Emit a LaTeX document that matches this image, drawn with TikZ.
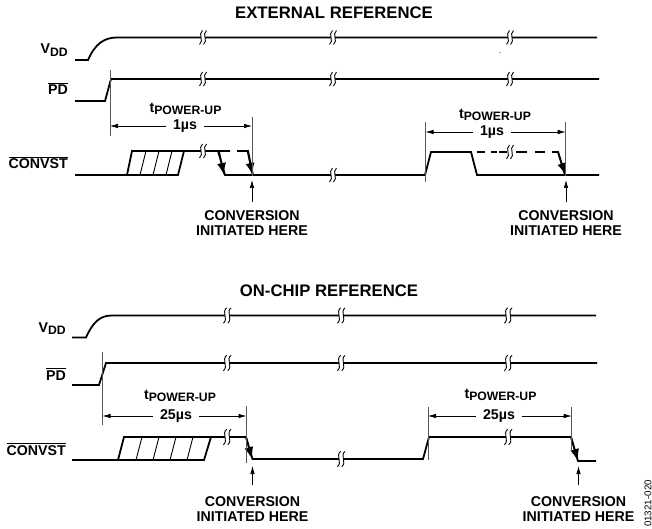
\documentclass[tikz,border=0pt]{standalone}
\usepackage{fontspec}
\setmainfont{Liberation Sans}
\usetikzlibrary{arrows.meta}

\newcommand{\lowtext}[1]{\raisebox{-0.28ex}{\fontsize{12.2}{13}\selectfont #1}}
\newcommand{\barred}[1]{\vbox{\hrule height 1.1pt \kern 1pt \hbox{#1}}}

\tikzset{
	signal/.style={line width=1.8pt},
	guide/.style={line width=0.7pt, black!65},
	hatch/.style={line width=0.9pt},
	edgearrow/.style={line width=1.5pt, -{Latex[length=12pt,width=9pt]}},
	dimarrow/.style={line width=0.7pt, -{Latex[length=8pt,width=4.5pt]}},
	lbl/.style={font=\bfseries\fontsize{14.2}{14.5}\selectfont, inner sep=0pt},
	heading/.style={font=\bfseries\fontsize{16.7}{17}\selectfont, inner sep=0pt},
	note/.style={lbl, align=center, anchor=north, inner ysep=8.5pt},
	span/.style={lbl, inner xsep=7pt, fill=white},
	gapmark/.pic={
		\fill[white] (1.5,-7) .. controls (-3.5,-3) and (3.5,3) .. (-1.5,7) -- (2.5,7) .. controls (7.5,3) and (0.5,-3) .. (5.5,-7) -- cycle;
		\draw[line width=0.9pt] (1.5,-7) .. controls (-3.5,-3) and (3.5,3) .. (-1.5,7);
		\draw[line width=0.9pt] (5.5,-7) .. controls (0.5,-3) and (7.5,3) .. (2.5,7);
	}
}

\begin{document}
\begin{tikzpicture}[x=1pt, y=-1pt]
	\useasboundingbox (0, 0) rectangle (652, 529);

	% external reference
	\node[heading] (titleext) at (334, 13) {EXTERNAL REFERENCE};
	\node[lbl, anchor=base east] (vddext) at (68, 54) {V\lowtext{DD}};
	\node[lbl, anchor=base east] (pdext) at (68, 95) {\barred{PD}};
	\node[lbl, anchor=base east] (convext) at (68, 169) {\barred{CONVST}};

	\draw[signal] (75, 60) -- (88, 60) .. controls (95, 44) and (104, 37.5) .. (117, 37.5) -- (597, 37.5);
	\draw[signal] (75, 101) -- (105, 101) -- (111, 79) -- (599, 79);
	\draw[signal] (75, 175) -- (178, 175) -- (184, 151) -- (218, 151) -- (225, 175) -- (425, 175) -- (431, 152) -- (471, 152) -- (477, 175) -- (599, 175);
	\draw[signal] (127, 175) -- (132, 151) -- (184, 151);
	\foreach \b/\t in {140/146, 153/159, 166/172}
		\draw[hatch] (\b, 175) -- (\t, 151);
	\draw[signal] (218, 151) -- (230, 151) (237, 151) -- (248, 151) -- (253, 175);
	\foreach \a/\c in {477/485, 491/497, 499/507, 516/527, 535/545}
		\draw[signal] (\a, 152) -- (\c, 152);
	\draw[signal] (552, 152) -- (558, 152) -- (565, 175);
	\draw[edgearrow] (219, 151) -- (224, 175);
	\draw[edgearrow] (247.5, 151) -- (252.5, 175);
	\draw[edgearrow] (558, 152) -- (565.5, 175);

	\foreach \x in {201, 331, 508} {
		\pic at (\x, 37.5) {gapmark};
		\pic at (\x, 79) {gapmark};
	}
	\foreach \x/\y in {201/151, 331/175, 508/152}
		\pic at (\x, \y) {gapmark};

	\coordinate (ta) at (110, 70);
	\coordinate (tb) at (110, 136);
	\coordinate (tc) at (252, 117);
	\coordinate (td) at (252, 176);
	\coordinate (te) at (425.5, 122);
	\coordinate (tf) at (425.5, 182);
	\coordinate (tg) at (565.7, 122);
	\coordinate (th) at (565.7, 176);
	\draw[guide] (ta) -- (tb);
	\draw[guide] (tc) -- (td);
	\draw[guide] (te) -- (tf);
	\draw[guide] (tg) -- (th);

	\node[lbl] (tpuext) at (185.5, 108.5) {t\lowtext{POWER-UP}};
	\node[span] (usext) at (185, 126) {1µs};
	\coordinate (ua) at (110, 126);
	\coordinate (ub) at (252, 126);
	\draw[dimarrow] (usext) -- (ua);
	\draw[dimarrow] (usext) -- (ub);
	\node[lbl] (tpuextb) at (495, 115) {t\lowtext{POWER-UP}};
	\node[span] (usextb) at (492, 132) {1µs};
	\coordinate (uc) at (425.5, 132);
	\coordinate (ud) at (565.7, 132);
	\draw[dimarrow] (usextb) -- (uc);
	\draw[dimarrow] (usextb) -- (ud);

	\node[note] (initext) at (252, 202) {CONVERSION\\INITIATED HERE};
	\node[note] (initextb) at (566, 202) {CONVERSION\\INITIATED HERE};
	\coordinate (va) at (252, 180);
	\coordinate (vb) at (566, 180);
	\draw[dimarrow] (initext) -- (va);
	\draw[dimarrow] (initextb) -- (vb);
	\fill[black!60] (500, 52.5) circle (0.6);

	% on-chip reference
	\node[heading] (titleint) at (329, 291) {ON-CHIP REFERENCE};
	\node[lbl, anchor=base east] (vddint) at (66, 332) {V\lowtext{DD}};
	\node[lbl, anchor=base east] (pdint) at (66, 380) {\barred{PD}};
	\node[lbl, anchor=base east] (convint) at (66, 455) {\barred{CONVST}};

	\draw[signal] (72, 337.5) -- (86, 337.5) .. controls (93, 322) and (100, 315.5) .. (112, 315.5) -- (596, 315.5);
	\draw[signal] (72, 385) -- (99, 385) -- (106, 363) -- (597, 363);
	\draw[signal] (72, 460) -- (204, 460) -- (211, 437) -- (246, 437) -- (252.5, 459) -- (423, 459) -- (429, 437) -- (571, 437) -- (578, 461) -- (596, 461);
	\draw[signal] (118, 460) -- (124, 437) -- (211, 437);
	\foreach \b/\t in {136/142, 153/159, 170/176, 187/193}
		\draw[hatch] (\b, 460) -- (\t, 437);
	\draw[edgearrow] (246, 437) -- (252, 459);
	\draw[edgearrow] (571, 437) -- (578, 461);

	\foreach \x in {225, 339, 506} {
		\pic[scale=1.1] at (\x, 315.5) {gapmark};
		\pic[scale=1.1] at (\x, 363) {gapmark};
	}
	\foreach \x/\y in {225/437, 339/459, 506/437}
		\pic[scale=1.1] at (\x, \y) {gapmark};

	\coordinate (tj) at (102.5, 352);
	\coordinate (tk) at (102.5, 425);
	\coordinate (tl) at (246.5, 406);
	\coordinate (tm) at (246.5, 463);
	\coordinate (tn) at (428, 407);
	\coordinate (tp) at (428, 460);
	\coordinate (tq) at (571.7, 407);
	\coordinate (tr) at (571.7, 452);
	\draw[guide] (tj) -- (tk);
	\draw[guide] (tl) -- (tm);
	\draw[guide] (tn) -- (tp);
	\draw[guide] (tq) -- (tr);

	\node[lbl] (tpuint) at (180, 396) {t\lowtext{POWER-UP}};
	\node[span] (usint) at (176, 416) {25µs};
	\coordinate (uf) at (102.5, 416);
	\coordinate (ug) at (246.5, 416);
	\draw[dimarrow] (usint) -- (uf);
	\draw[dimarrow] (usint) -- (ug);
	\node[lbl] (tpuintb) at (500.5, 395) {t\lowtext{POWER-UP}};
	\node[span] (usintb) at (499, 416) {25µs};
	\coordinate (uh) at (428, 416);
	\coordinate (uj) at (571.7, 416);
	\draw[dimarrow] (usintb) -- (uh);
	\draw[dimarrow] (usintb) -- (uj);

	\node[note, inner ysep=11.5pt] (initint) at (252.5, 485) {CONVERSION\\INITIATED HERE};
	\node[note, inner ysep=11.5pt] (initintb) at (578.5, 485) {CONVERSION\\INITIATED HERE};
	\coordinate (vc) at (252.5, 466);
	\coordinate (vd) at (578.5, 466);
	\draw[dimarrow] (initint) -- (vc);
	\draw[dimarrow] (initintb) -- (vd);

	\node[font=\fontsize{9.8}{10}\selectfont, inner sep=0pt, rotate=90] (figno) at (648, 503.5) {01321-020};
\end{tikzpicture}
\end{document}
